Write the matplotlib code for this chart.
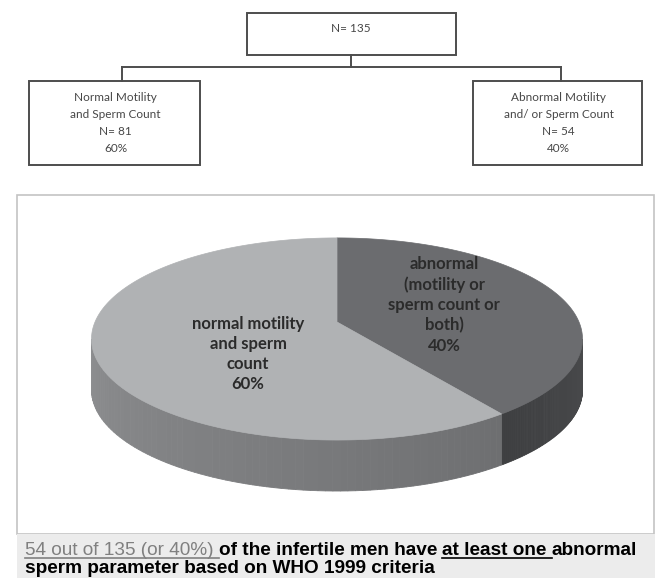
import numpy as np
import matplotlib
matplotlib.use("Agg")
import matplotlib.pyplot as plt
from matplotlib.patches import Rectangle, Polygon

# --- data ---
total_n = 135
group_labels = ["Normal Motility\nand Sperm Count", "Abnormal Motility\nand/ or Sperm Count"]
group_n = [81, 54]
group_pct = [60, 40]

pie_labels = ["abnormal\n(motility or\nsperm count or\nboth)", "normal motility\nand sperm\ncount"]
pie_pct = [40, 60]

caption_line1 = ["54 out of 135 (or 40%) ", "of the infertile men have ", "at least one ", "abnormal"]
caption_line2 = "sperm parameter based on WHO 1999 criteria"

# --- figure in pixel coordinates ---
W, H = 655, 578
fig = plt.figure(figsize=(W / 100, H / 100), dpi=100)
ax = fig.add_axes([0, 0, 1, 1])
ax.set_xlim(0, W)
ax.set_ylim(H, 0)
ax.axis("off")

box_col = "#4d4d4d"
txt_col = "#474747"
diag_font = "Lato"

# --- flow diagram ---
ax.add_patch(Rectangle((247, 13), 209, 42, fill=False, ec=box_col, lw=1.4))
ax.text(351, 28, f"N= {total_n}", ha="center", va="center", fontsize=8.5,
        family=diag_font, color=txt_col)
ax.plot([351, 351], [55, 67], color=box_col, lw=1.4)
ax.plot([122, 561], [67, 67], color=box_col, lw=1.4)

boxes_x = [(29, 200), (473, 642)]
drops_x = [122, 561]
for (x0, x1), dx, lab, n, p in zip(boxes_x, drops_x, group_labels, group_n, group_pct):
    ax.plot([dx, dx], [67, 81], color=box_col, lw=1.4)
    ax.add_patch(Rectangle((x0, 81), x1 - x0, 84, fill=False, ec=box_col, lw=1.4))
    ax.text((x0 + x1) / 2 + 1, 123, f"{lab}\nN= {n}\n{p}%", ha="center", va="center",
            fontsize=8.5, family=diag_font, color=txt_col, linespacing=1.7)

# --- panel ---
ax.add_patch(Rectangle((17, 195), 637, 339, fc="white", ec="#c4c4c4", lw=1.2))
ax.add_patch(Rectangle((17, 534), 638, 44, fc="#ececec", ec="none"))

# --- 3D pie ---
cx, cy = 337, 322
rx, ry = 242, 98.2
q = 0.168
depth = 51


def proj(t):
    X = np.sin(t)
    Y = -np.cos(t)
    d = 1 - q * Y
    return cx + rx * X / d, cy + ry * Y / d


fracs = np.array(pie_pct) / 100.0
edges = np.concatenate([[0], np.cumsum(fracs)]) * 2 * np.pi

# silhouette angles (front arc of the side)
tt = np.linspace(0, 2 * np.pi, 3601)
xx, yy = proj(tt)
t_r = tt[np.argmax(xx)]
t_l = tt[np.argmin(xx)]

top_cols = ["#6b6c6f", "#b0b2b4"]
side_cols = [("#4a4b4d", "#3e3f41"), ("#6e6f71", "#8d8e90")]

# sides
for i in range(len(fracs)):
    a0 = max(edges[i], t_r)
    a1 = min(edges[i + 1], t_l)
    if a1 <= a0:
        continue
    ts = np.linspace(a0, a1, 80)
    c0 = np.array(matplotlib.colors.to_rgb(side_cols[i][0]))
    c1 = np.array(matplotlib.colors.to_rgb(side_cols[i][1]))
    for k in range(len(ts) - 1):
        sx, sy = proj(np.array([ts[k], ts[k + 1]]))
        poly = [(sx[0], sy[0]), (sx[1], sy[1]), (sx[1], sy[1] + depth), (sx[0], sy[0] + depth)]
        f = k / (len(ts) - 2)
        col = c0 + (c1 - c0) * f
        ax.add_patch(Polygon(poly, closed=True, fc=col, ec=col, lw=0.6))

# top faces
for i in range(len(fracs)):
    ts = np.linspace(edges[i], edges[i + 1], 200)
    px, py = proj(ts)
    pts = [(cx, cy)] + list(zip(px, py))
    ax.add_patch(Polygon(pts, closed=True, fc=top_cols[i], ec=top_cols[i], lw=0.5))

# pie labels
ax.text(444, 305, f"{pie_labels[0]}\n{pie_pct[0]}%", ha="center", va="center",
        fontsize=12, family=diag_font, weight="bold", color="#2b2b2b", linespacing=1.32)
ax.text(248, 354, f"{pie_labels[1]}\n{pie_pct[1]}%", ha="center", va="center",
        fontsize=12, family=diag_font, weight="bold", color="#2b2b2b", linespacing=1.32)

# --- caption ---
cap_font = "Liberation Sans"
styles = [("#808080", "normal", True), ("black", "bold", False),
          ("black", "bold", True), ("black", "bold", False)]

fig.canvas.draw()
renderer = fig.canvas.get_renderer()


def layout(fs, draw=False):
    x = 25
    for piece, (col, wt, ul) in zip(caption_line1, styles):
        t = ax.text(x, 555, piece, ha="left", va="baseline", fontsize=fs,
                    family=cap_font, weight=wt, color=col)
        bb = t.get_window_extent(renderer)
        if not draw:
            t.remove()
        elif ul:
            ax.plot([bb.x0, bb.x1], [557.5, 557.5], color=col, lw=1.2)
        x = bb.x1
    return x


fs = 11.0
end = layout(fs)
fs = fs * (639 - 25) / (end - 25)
layout(fs, draw=True)
ax.text(25, 573, caption_line2, ha="left", va="baseline", fontsize=fs,
        family=cap_font, weight="bold", color="black")

plt.savefig("out.png", dpi=100)
